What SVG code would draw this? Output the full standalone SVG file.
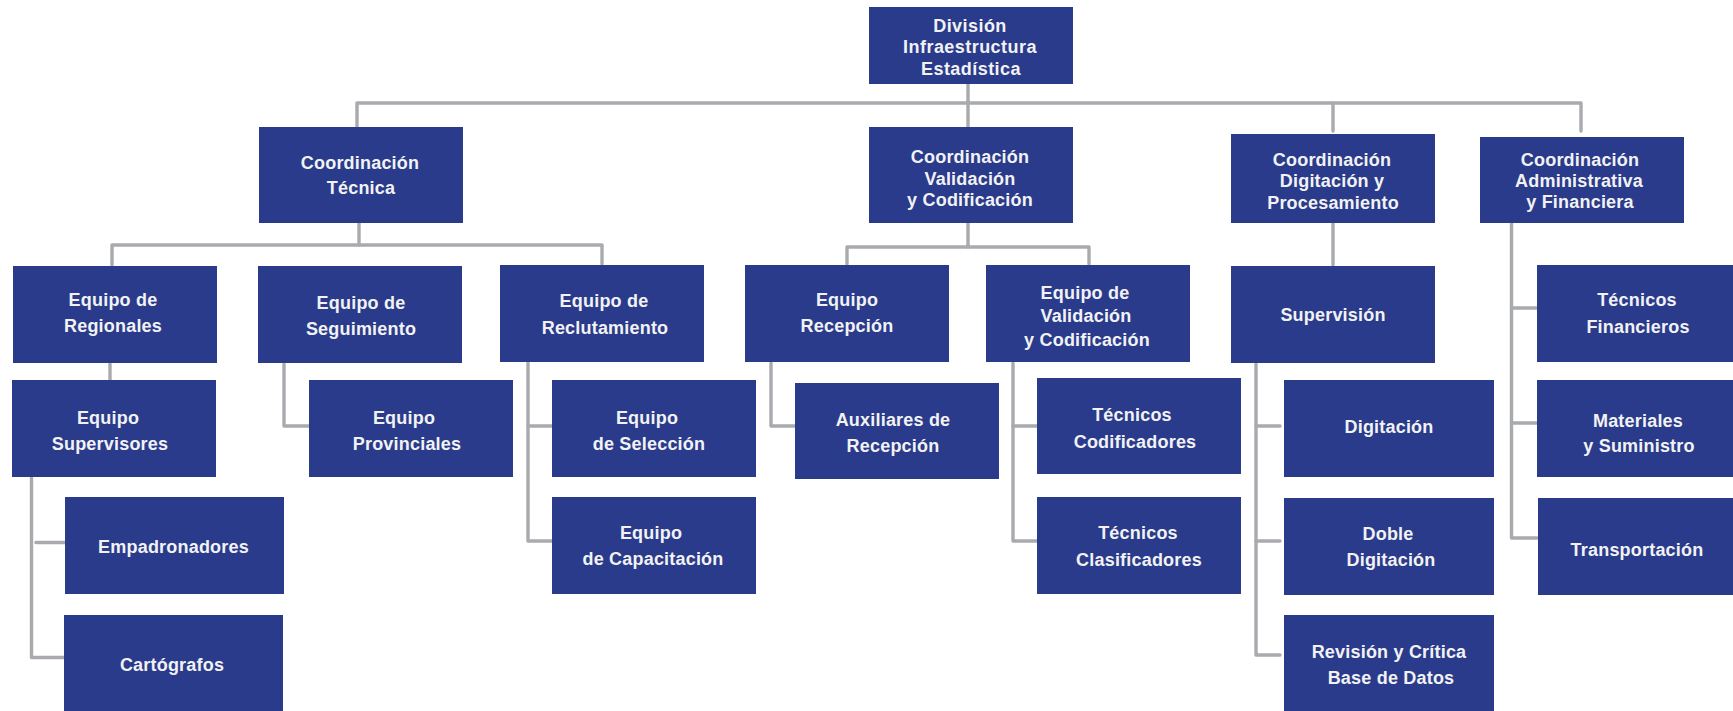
<svg xmlns="http://www.w3.org/2000/svg" width="1733" height="711" viewBox="0 0 1733 711">
<style>
.box{fill:#293B8A}
.t{font-family:"Liberation Sans",Arial,sans-serif;font-weight:bold;font-size:18px;letter-spacing:0.2px;fill:#F2F2F4;text-anchor:middle}
.w{letter-spacing:0.45px}
.c{fill:none;stroke:#A9AAAE;stroke-width:3.4;stroke-linecap:round;stroke-linejoin:round}
</style>
<rect width="1733" height="711" fill="#FFFFFF"/>
<g id="connectors" class="c">
<path d="M968,84 V127"/>
<path d="M357,126 V103 H1581 V131"/>
<path d="M1333,103 V131"/>
<path d="M359,223 V245"/>
<path d="M112,265 V245 H602 V264"/>
<path d="M968,223 V247"/>
<path d="M847,264 V247 H1089 V264"/>
<path d="M1333,223 V265"/>
<path d="M1511.5,223 V538 H1537"/>
<path d="M1511.5,308 H1537"/>
<path d="M1511.5,423 H1537"/>
<path d="M110,364 V380"/>
<path d="M284,364 V426 H309"/>
<path d="M528,363 V541 H552"/>
<path d="M528,426 H552"/>
<path d="M771,363 V426 H795"/>
<path d="M1013,363 V541 H1037"/>
<path d="M1013,426 H1037"/>
<path d="M1256,364 V655 H1280"/>
<path d="M1256,426 H1280"/>
<path d="M1256,541 H1280"/>
<path d="M31.5,478 V657.5 H64"/>
<path d="M36,542.5 H65"/>
</g>
<g id="division"><rect class="box" x="869" y="7" width="204" height="77"/><text class="t w" x="970" y="31.5">División</text><text class="t w" x="970" y="53">Infraestructura</text><text class="t w" x="971" y="74.5">Estadística</text></g>
<g id="coord-tecnica"><rect class="box" x="259" y="127" width="204" height="96"/><text class="t" x="360" y="168.5">Coordinación</text><text class="t" x="361" y="193.5">Técnica</text></g>
<g id="coord-validacion"><rect class="box" x="869" y="127" width="204" height="96"/><text class="t" x="970" y="163">Coordinación</text><text class="t" x="970" y="184.5">Validación</text><text class="t" x="970" y="206">y Codificación</text></g>
<g id="coord-digitacion"><rect class="box" x="1231" y="134" width="204" height="89"/><text class="t" x="1332" y="166">Coordinación</text><text class="t" x="1332" y="187">Digitación y</text><text class="t" x="1333" y="209">Procesamiento</text></g>
<g id="coord-admin"><rect class="box" x="1480" y="137" width="204" height="86"/><text class="t" x="1580" y="166">Coordinación</text><text class="t" x="1579" y="187">Administrativa</text><text class="t" x="1580" y="208">y Financiera</text></g>
<g id="eq-regionales"><rect class="box" x="13" y="266" width="204" height="97"/><text class="t" x="113" y="305.5">Equipo de</text><text class="t" x="113" y="331.5">Regionales</text></g>
<g id="eq-seguimiento"><rect class="box" x="258" y="266" width="204" height="97"/><text class="t" x="361" y="308.5">Equipo de</text><text class="t" x="361" y="334.5">Seguimiento</text></g>
<g id="eq-reclutamiento"><rect class="box" x="500" y="265" width="204" height="97"/><text class="t" x="604" y="307">Equipo de</text><text class="t" x="605" y="333.5">Reclutamiento</text></g>
<g id="eq-recepcion"><rect class="box" x="745" y="265" width="204" height="97"/><text class="t" x="847" y="305.5">Equipo</text><text class="t" x="847" y="331.5">Recepción</text></g>
<g id="eq-validacion"><rect class="box" x="986" y="265" width="204" height="97"/><text class="t" x="1085" y="298.5">Equipo de</text><text class="t" x="1086" y="321.5">Validación</text><text class="t" x="1087" y="345.5">y Codificación</text></g>
<g id="supervision"><rect class="box" x="1231" y="266" width="204" height="97"/><text class="t" x="1333" y="320.5">Supervisión</text></g>
<g id="tec-financieros"><rect class="box" x="1537" y="265" width="204" height="97"/><text class="t" x="1637" y="306">Técnicos</text><text class="t" x="1638" y="332.5">Financieros</text></g>
<g id="eq-supervisores"><rect class="box" x="12" y="380" width="204" height="97"/><text class="t" x="108" y="423.5">Equipo</text><text class="t" x="110" y="449.5">Supervisores</text></g>
<g id="eq-provinciales"><rect class="box" x="309" y="380" width="204" height="97"/><text class="t" x="404" y="423.5">Equipo</text><text class="t" x="407" y="449.5">Provinciales</text></g>
<g id="eq-seleccion"><rect class="box" x="552" y="380" width="204" height="97"/><text class="t" x="647" y="424">Equipo</text><text class="t" x="649" y="450">de Selección</text></g>
<g id="auxiliares"><rect class="box" x="795" y="383" width="204" height="96"/><text class="t" x="893" y="425.5">Auxiliares de</text><text class="t" x="893" y="451.5">Recepción</text></g>
<g id="tec-codificadores"><rect class="box" x="1037" y="378" width="204" height="96"/><text class="t" x="1132" y="421">Técnicos</text><text class="t" x="1135" y="447.5">Codificadores</text></g>
<g id="digitacion"><rect class="box" x="1284" y="380" width="210" height="97"/><text class="t" x="1389" y="433">Digitación</text></g>
<g id="materiales"><rect class="box" x="1537" y="380" width="204" height="97"/><text class="t" x="1638" y="427">Materiales</text><text class="t" x="1639" y="451.5">y Suministro</text></g>
<g id="empadronadores"><rect class="box" x="65" y="497" width="219" height="97"/><text class="t" x="173.5" y="553">Empadronadores</text></g>
<g id="eq-capacitacion"><rect class="box" x="552" y="497" width="204" height="97"/><text class="t" x="651" y="539">Equipo</text><text class="t" x="653" y="565">de Capacitación</text></g>
<g id="tec-clasificadores"><rect class="box" x="1037" y="497" width="204" height="97"/><text class="t" x="1138" y="539">Técnicos</text><text class="t" x="1139" y="565.5">Clasificadores</text></g>
<g id="doble-digitacion"><rect class="box" x="1284" y="498" width="210" height="97"/><text class="t" x="1388" y="540">Doble</text><text class="t" x="1391" y="566">Digitación</text></g>
<g id="transportacion"><rect class="box" x="1538" y="498" width="204" height="97"/><text class="t" x="1637" y="556">Transportación</text></g>
<g id="cartografos"><rect class="box" x="64" y="615" width="219" height="100"/><text class="t" x="172" y="670.5">Cartógrafos</text></g>
<g id="revision"><rect class="box" x="1284" y="615" width="210" height="100"/><text class="t" x="1389" y="658">Revisión y Crítica</text><text class="t" x="1391" y="684">Base de Datos</text></g>
</svg>
